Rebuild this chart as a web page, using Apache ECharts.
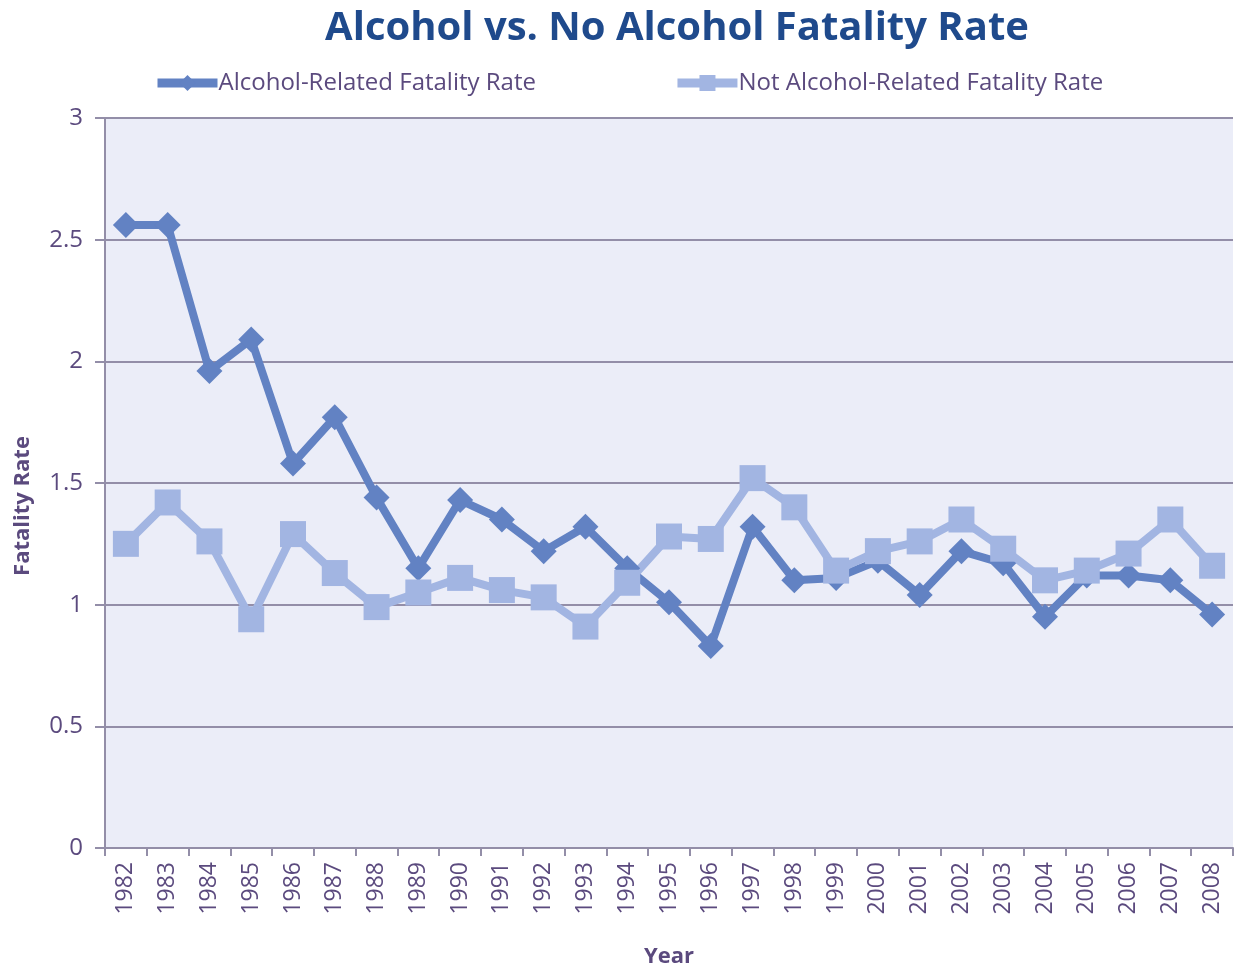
<!DOCTYPE html>
<html>
<head>
<meta charset="utf-8">
<script src="https://cdn.jsdelivr.net/npm/echarts@6/dist/echarts.min.js"></script>
<style>
  html, body { margin: 0; padding: 0; background: #fff; }
  #chart { width: 1236px; height: 969px; }
</style>
</head>
<body>
<div id="chart"></div>
<script>
const years = ['1982','1983','1984','1985','1986','1987','1988','1989','1990','1991','1992','1993','1994',
  '1995','1996','1997','1998','1999','2000','2001','2002','2003','2004','2005','2006','2007','2008']
const alcoholRate = [2.56, 2.56, 1.96, 2.09, 1.58, 1.77, 1.44, 1.15, 1.43, 1.35, 1.22, 1.32, 1.15,
  1.01, 0.83, 1.32, 1.10, 1.11, 1.18, 1.04, 1.22, 1.17, 0.95, 1.12, 1.12, 1.10, 0.96]
const noAlcoholRate = [1.25, 1.42, 1.26, 0.94, 1.29, 1.13, 0.99, 1.05, 1.11, 1.06, 1.03, 0.91, 1.09,
  1.28, 1.27, 1.52, 1.40, 1.14, 1.22, 1.26, 1.35, 1.23, 1.10, 1.14, 1.21, 1.35, 1.16]

const textColor = '#5b4a7e'
const lineGray = '#938ea8'

const chart = echarts.init(document.getElementById('chart'))
chart.setOption({
  animation: false,
  textStyle: { fontFamily: 'Open Sans' },
  title: {
    text: 'Alcohol vs. No Alcohol Fatality Rate',
    left: 672,
    textAlign: 'center',
    top: 4,
    textStyle: { fontSize: 40, fontWeight: 'bold', color: '#1f4a8c', fontFamily: 'Open Sans' }
  },
  legend: {
    top: 66,
    left: 148,
    itemGap: 137,
    itemWidth: 60,
    itemHeight: 20,
    lineStyle: { width: 9 },
    textStyle: { fontSize: 24, color: textColor, padding: [0, 0, 0, -4] },
    data: ['Alcohol-Related Fatality Rate', 'Not Alcohol-Related Fatality Rate']
  },
  grid: { left: 105, right: 3, top: 118, bottom: 121, outerBoundsMode: 'none', containLabel: false },
  xAxis: {
    type: 'category',
    data: years,
    boundaryGap: true,
    name: 'Year',
    nameLocation: 'middle',
    nameGap: 98,
    nameTextStyle: { fontSize: 22, fontWeight: 'bold', color: textColor },
    axisLine: { lineStyle: { color: lineGray, width: 2 } },
    axisTick: { show: true, alignWithLabel: false, length: 8, lineStyle: { color: lineGray, width: 2 } },
    axisLabel: { rotate: 90, fontSize: 23, color: textColor, margin: 14, interval: 0 }
  },
  yAxis: {
    type: 'value',
    min: 0,
    max: 3,
    interval: 0.5,
    name: 'Fatality Rate',
    nameLocation: 'middle',
    nameGap: 71,
    // title sits a bit below the plot's middle in the original
    nameTextStyle: { fontSize: 22, fontWeight: 'bold', color: textColor, padding: [0, 46, 0, 0] },
    axisLine: { show: true, lineStyle: { color: lineGray, width: 2 } },
    axisTick: { show: true, length: 10, lineStyle: { color: lineGray, width: 2 } },
    axisLabel: { fontSize: 24, color: textColor, margin: 22 },
    splitLine: { lineStyle: { color: lineGray, width: 2 } },
    splitArea: { show: true, areaStyle: { color: ['#ebedf8', '#ebedf8'] } }
  },
  series: [
    {
      name: 'Alcohol-Related Fatality Rate',
      type: 'line',
      data: alcoholRate,
      symbol: 'diamond',
      symbolSize: 26,
      lineStyle: { color: '#6282c3', width: 8 },
      itemStyle: { color: '#6282c3' }
    },
    {
      name: 'Not Alcohol-Related Fatality Rate',
      type: 'line',
      data: noAlcoholRate,
      symbol: 'rect',
      symbolSize: 26,
      lineStyle: { color: '#a2b5e2', width: 8 },
      itemStyle: { color: '#a2b5e2' }
    }
  ]
})
</script>
</body>
</html>
